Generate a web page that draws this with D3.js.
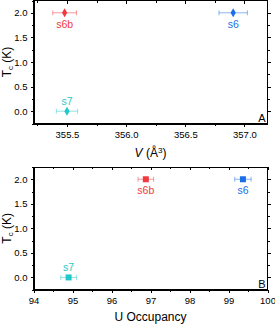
<!DOCTYPE html>
<meta charset="utf-8">
<style>
	body { margin: 0; background: #fff; }
	svg { font-family: "Liberation Sans", Arial, sans-serif; }
	.axis path, .axis line { stroke: #000; shape-rendering: crispEdges; }
	.axis text { font-size: 9.5px; fill: #000; }
</style>
<body>
<script src="https://d3js.org/d3.v7.min.js"></script>
<script>
	// data
	var samples = ["s6b", "s6", "s7"];
	var colors = ["#f03a3e", "#1a6fe6", "#1fc9c9"];
	var tc = [2.0, 2.0, 0.0];
	var volume = [355.48, 356.905, 355.5];
	var volumeErr = [0.1, 0.12, 0.09];
	var occupancy = [96.88, 99.37, 94.9];
	var occupancyErr = [0.2, 0.21, 0.2];
	var yTicks = [0.0, 0.5, 1.0, 1.5, 2.0];
	var vTicks = [355.5, 356.0, 356.5, 357.0];
	var uTicks = [94, 95, 96, 97, 98, 99, 100];
	// label placement: below point (1) or above (-1)
	var labelSide = [1, 1, -1];

	var width = 275, height = 324;
	var svg = d3.select("body").append("svg")
		.attr("width", width)
		.attr("height", height);

	function panel(opt) {
		var left = 33.5, right = 267.5;
		var x = d3.scaleLinear().domain(opt.xDomain).range([left, right]);
		var y = d3.scaleLinear().domain([-0.25, 2.25]).range([opt.bottom, opt.top]);
		var g = svg.append("g");

		// bottom axis, ticks outward
		g.append("g").attr("class", "axis")
			.attr("transform", "translate(0," + opt.bottom + ")")
			.call(d3.axisBottom(x).tickValues(opt.xTicks).tickSize(3).tickSizeOuter(0).tickFormat(opt.xFormat))
			.call(function(a) { a.selectAll("text").attr("dy", "0.9em"); });
		g.append("g").attr("class", "axis")
			.attr("transform", "translate(0," + opt.bottom + ")")
			.call(d3.axisBottom(x).tickValues(opt.xMinor).tickSize(2).tickSizeOuter(0).tickFormat(""))
			.select(".domain").remove();
		// top axis, ticks inward
		g.append("g").attr("class", "axis")
			.attr("transform", "translate(0," + opt.top + ")")
			.call(d3.axisBottom(x).tickValues(opt.xTicks).tickSize(3).tickSizeOuter(0).tickFormat(""))
			.select(".domain").remove();
		g.append("g").attr("class", "axis")
			.attr("transform", "translate(0," + opt.top + ")")
			.call(d3.axisBottom(x).tickValues(opt.xMinor).tickSize(2).tickSizeOuter(0).tickFormat(""))
			.select(".domain").remove();
		// left axis, ticks outward
		g.append("g").attr("class", "axis")
			.attr("transform", "translate(" + left + ",0)")
			.call(d3.axisLeft(y).tickValues(yTicks).tickSize(3).tickSizeOuter(0).tickFormat(d3.format(".1f")));
		g.append("g").attr("class", "axis")
			.attr("transform", "translate(" + left + ",0)")
			.call(d3.axisLeft(y).tickValues([-0.25, 0.25, 0.75, 1.25, 1.75, 2.25]).tickSize(2).tickSizeOuter(0).tickFormat(""))
			.select(".domain").remove();
		// right axis, ticks inward
		g.append("g").attr("class", "axis")
			.attr("transform", "translate(" + right + ",0)")
			.call(d3.axisLeft(y).tickValues(yTicks).tickSize(-3).tickSizeOuter(0).tickFormat(""))
			.select(".domain").remove();
		g.append("g").attr("class", "axis")
			.attr("transform", "translate(" + right + ",0)")
			.call(d3.axisLeft(y).tickValues([0.25, 0.75, 1.25, 1.75]).tickSize(-2).tickSizeOuter(0).tickFormat(""))
			.select(".domain").remove();
		g.append("rect")
			.attr("x", left).attr("y", opt.top)
			.attr("width", right - left).attr("height", opt.bottom - opt.top)
			.attr("fill", "none").attr("stroke", "#000").attr("shape-rendering", "crispEdges");

		// error bars, markers, labels
		samples.forEach(function(s, i) {
			var cx = x(opt.xv[i]), cy = y(tc[i]);
			var x0 = x(opt.xv[i] - opt.xe[i]), x1 = x(opt.xv[i] + opt.xe[i]);
			var eb = g.append("g").attr("stroke", colors[i]).attr("stroke-opacity", 0.5).attr("stroke-width", 1);
			eb.append("line").attr("x1", x0).attr("x2", x1).attr("y1", cy).attr("y2", cy);
			eb.append("line").attr("x1", x0).attr("x2", x0).attr("y1", cy - 2.5).attr("y2", cy + 2.5);
			eb.append("line").attr("x1", x1).attr("x2", x1).attr("y1", cy - 2.5).attr("y2", cy + 2.5);
			if (opt.square) {
				g.append("rect").attr("x", cx - 3).attr("y", cy - 3).attr("width", 6).attr("height", 6)
					.attr("fill", colors[i]);
			} else {
				g.append("path").attr("d", d3.symbol(d3.symbolDiamond, 24)())
					.attr("transform", "translate(" + cx + "," + cy + ")")
					.attr("fill", colors[i]);
			}
			g.append("text")
				.attr("x", cx)
				.attr("y", cy + (labelSide[i] > 0 ? 15 : -6))
				.attr("text-anchor", "middle")
				.attr("font-size", "10.5px")
				.attr("fill", colors[i])
				.text(s);
		});

		g.append("text")
			.attr("x", right - 2).attr("y", opt.bottom - 2)
			.attr("text-anchor", "end")
			.attr("font-size", "11px")
			.text(opt.tag);

		// y title
		var yt = g.append("text")
			.attr("transform", "translate(11," + (opt.top + opt.bottom) / 2 + ") rotate(-90)")
			.attr("text-anchor", "middle")
			.attr("font-size", "12px");
		yt.append("tspan").text("T");
		yt.append("tspan").attr("font-size", "8px").attr("dy", "2").text("c");
		yt.append("tspan").attr("dy", "-2").text(" (K)");

		var xt = g.append("text")
			.attr("x", (left + right) / 2).attr("y", opt.titleY)
			.attr("text-anchor", "middle")
			.attr("font-size", "12px");
		opt.xTitle(xt);
	}

	panel({
		top: 0.5, bottom: 123.5,
		xDomain: [355.217, 357.195],
		xTicks: vTicks,
		xMinor: [355.25, 355.75, 356.25, 356.75],
		xFormat: d3.format(".1f"),
		xv: volume, xe: volumeErr,
		square: false, tag: "A", titleY: 157,
		xTitle: function(t) {
			t.append("tspan").attr("font-style", "italic").text("V");
			t.append("tspan").text(" (Å");
			t.append("tspan").attr("font-size", "8px").attr("dy", "-4").text("3");
			t.append("tspan").attr("dy", "4").text(")");
		}
	});

	panel({
		top: 167, bottom: 289.7,
		xDomain: [94, 100],
		xTicks: uTicks,
		xMinor: [94.5, 95.5, 96.5, 97.5, 98.5, 99.5],
		xFormat: d3.format("d"),
		xv: occupancy, xe: occupancyErr,
		square: true, tag: "B", titleY: 321,
		xTitle: function(t) { t.text("U Occupancy"); }
	});
</script>
